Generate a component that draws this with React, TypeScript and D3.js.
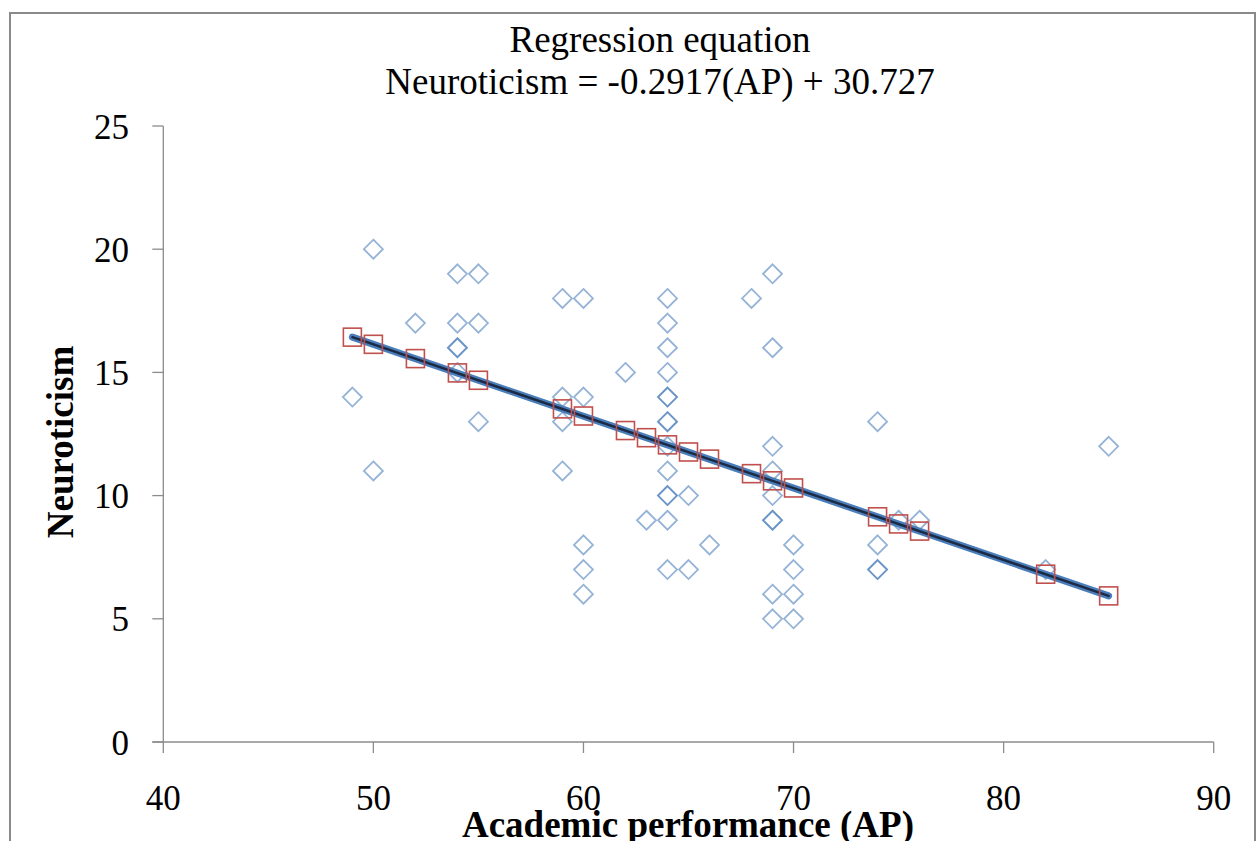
import React from "react";
import * as d3 from "d3";

// Observed data (blue diamonds)
const apValues: number[] = [
  49,
  50, 50,
  52,
  54, 54, 54, 54, 54,
  55, 55, 55,
  59, 59, 59, 59,
  60, 60, 60, 60, 60,
  62,
  63,
  64, 64, 64, 64, 64, 64, 64, 64, 64, 64, 64, 64, 64, 64,
  65, 65,
  66,
  68,
  69, 69, 69, 69, 69, 69, 69, 69, 69,
  70, 70, 70, 70,
  74, 74, 74, 74,
  75,
  76,
  82,
  85,
];
const neuroticismValues: number[] = [
  14,
  20, 11,
  17,
  19, 17, 16, 16, 15,
  19, 17, 13,
  18, 14, 13, 11,
  18, 14, 8, 7, 6,
  15,
  9,
  18, 17, 16, 15, 14, 14, 13, 13, 12, 11, 10, 10, 9, 7,
  10, 7,
  8,
  18,
  19, 16, 12, 11, 10, 9, 9, 6, 5,
  8, 7, 6, 5,
  13, 8, 7, 7,
  9,
  9,
  7,
  12,
];

// Predicted values (red squares)
const predictedAP: number[] = [49, 50, 52, 54, 55, 59, 60, 62, 63, 64, 65, 66, 68, 69, 70, 74, 75, 76, 82, 85];
const predictedNeuroticism: number[] = [
  16.43, 16.14, 15.56, 14.98, 14.68, 13.52, 13.23, 12.64, 12.35, 12.06,
  11.77, 11.48, 10.89, 10.6, 10.31, 9.14, 8.85, 8.56, 6.81, 5.93,
];

const xTicks: number[] = [40, 50, 60, 70, 80, 90];
const yTicks: number[] = [0, 5, 10, 15, 20, 25];

const titleLines: string[] = ["Regression equation", "Neuroticism = -0.2917(AP) + 30.727"];
const xTitle = "Academic performance (AP)";
const yTitle = "Neuroticism";

const W = 1257;
const H = 841;
const FONT = '"Liberation Serif", "Times New Roman", serif';

export default function App() {
  const x = d3.scaleLinear().domain([40, 90]).range([163.3, 1213.7]);
  const y = d3.scaleLinear().domain([0, 25]).range([742, 126]);

  const linePath = d3
    .line<[number, number]>()
    .x((d) => x(d[0]))
    .y((d) => y(d[1]))([
    [predictedAP[0], predictedNeuroticism[0]],
    [predictedAP[predictedAP.length - 1], predictedNeuroticism[predictedNeuroticism.length - 1]],
  ]) as string;

  const diamond = (cx: number, cy: number, r: number) =>
    `M${cx},${cy - r}L${cx + r},${cy}L${cx},${cy + r}L${cx - r},${cy}Z`;

  const axisColor = "#8c8c8c";

  return (
    <>
      <style>{`body{margin:0;background:#fff}`}</style>
      <svg width={W} height={H} style={{ display: "block" }} fontFamily={FONT}>
        <rect x={0} y={0} width={W} height={H} fill="#fff" />
        <rect x={10} y={13} width={1245} height={840} fill="#fff" stroke="#8a8a8a" strokeWidth={2} />

        {/* title */}
        {titleLines.map((t, i) => (
          <text key={i} x={660} y={52 + i * 42} textAnchor="middle" fontSize={37} fill="#000">
            {t}
          </text>
        ))}

        {/* axes */}
        <line x1={x(40)} x2={x(40)} y1={y(25)} y2={y(0)} stroke={axisColor} strokeWidth={1.3} />
        <line x1={x(40) - 11} x2={x(90)} y1={y(0)} y2={y(0)} stroke={axisColor} strokeWidth={1.3} />
        {yTicks.map((t) => (
          <g key={"y" + t}>
            <line x1={x(40) - 11} x2={x(40)} y1={y(t)} y2={y(t)} stroke={axisColor} strokeWidth={1.3} />
            <text x={129} y={y(t)} dy="0.36em" textAnchor="end" fontSize={35} fill="#000">
              {t}
            </text>
          </g>
        ))}
        {xTicks.map((t) => (
          <g key={"x" + t}>
            <line x1={x(t)} x2={x(t)} y1={y(0)} y2={y(0) + 11} stroke={axisColor} strokeWidth={1.3} />
            <text x={x(t)} y={810} textAnchor="middle" fontSize={35} fill="#000">
              {t}
            </text>
          </g>
        ))}

        {/* axis titles */}
        <text x={688} y={837} textAnchor="middle" fontSize={37} fontWeight="bold" fill="#000">
          {xTitle}
        </text>
        <text
          transform={`translate(73,442) rotate(-90)`}
          textAnchor="middle"
          fontSize={37}
          fontWeight="bold"
          fill="#000"
        >
          {yTitle}
        </text>

        {/* observed diamonds */}
        {apValues.map((a, i) => (
          <path
            key={"d" + i}
            d={diamond(x(a), y(neuroticismValues[i]), 9.5)}
            fill="none"
            stroke="#4F81BD"
            strokeOpacity={0.6}
            strokeWidth={1.8}
          />
        ))}

        {/* regression line */}
        <path d={linePath} stroke="#4A7EBB" strokeWidth={7} strokeLinecap="round" fill="none" />
        <path d={linePath} stroke="#1C2A44" strokeWidth={2.5} strokeLinecap="round" fill="none" />

        {/* predicted squares */}
        {predictedAP.map((a, i) => (
          <rect
            key={"s" + i}
            x={x(a) - 9}
            y={y(predictedNeuroticism[i]) - 9}
            width={18}
            height={18}
            fill="none"
            stroke="#C0504D"
            strokeWidth={1.6}
          />
        ))}
      </svg>
    </>
  );
}
